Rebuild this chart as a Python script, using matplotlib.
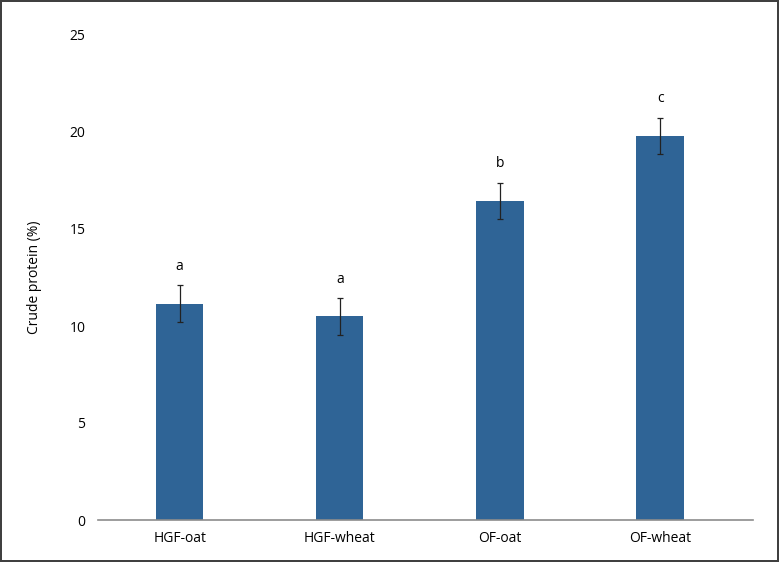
import matplotlib
matplotlib.use('Agg')
from matplotlib import pyplot as plt
import numpy as np

categories = ['HGF-oat', 'HGF-wheat', 'OF-oat', 'OF-wheat']
crude_protein = [11.15, 10.5, 16.45, 19.8]
std_err = [0.95, 0.95, 0.94, 0.94]
letters = ['a', 'a', 'b', 'c']
y_ticks = [0, 5, 10, 15, 20, 25]

plt.rcParams['font.family'] = ['Open Sans', 'DejaVu Sans']

fig = plt.figure(figsize=(7.79, 5.62), dpi=100)
fig.patch.set_edgecolor('#404040')
fig.patch.set_linewidth(1.5)
ax = fig.add_axes([98 / 779, 1 - 520 / 562, 655 / 779, 485 / 562])

x = np.arange(len(categories))
ax.bar(x, crude_protein, width=0.295, color='#2F6496', zorder=2)
ax.errorbar(x, crude_protein, yerr=std_err, fmt='none', ecolor='#222222',
            elinewidth=0.9, capsize=2.5, capthick=0.9, zorder=3)

for xi, val, err, letter in zip(x, crude_protein, std_err, letters):
  ax.annotate(letter, (xi, val + err), xytext=(0, 11), textcoords='offset points',
              ha='center', va='baseline', fontsize=10)

ax.set_xlim(-0.51, 3.58)
ax.set_ylim(0, 25)
ax.set_yticks(y_ticks)
ax.set_xticks(x)
ax.set_xticklabels(categories)
ax.tick_params(axis='both', length=0, labelsize=10)
ax.tick_params(axis='y', pad=9)
ax.tick_params(axis='x', pad=8)

for side in ['top', 'right', 'left']:
  ax.spines[side].set_visible(False)
ax.spines['bottom'].set_color('#8c8c8c')
ax.spines['bottom'].set_linewidth(1.2)

ax.set_ylabel('Crude protein (%)', fontsize=10)
ax.yaxis.set_label_coords(-0.085, 0.5)

fig.savefig('out.png', dpi=100, edgecolor=fig.get_edgecolor())
